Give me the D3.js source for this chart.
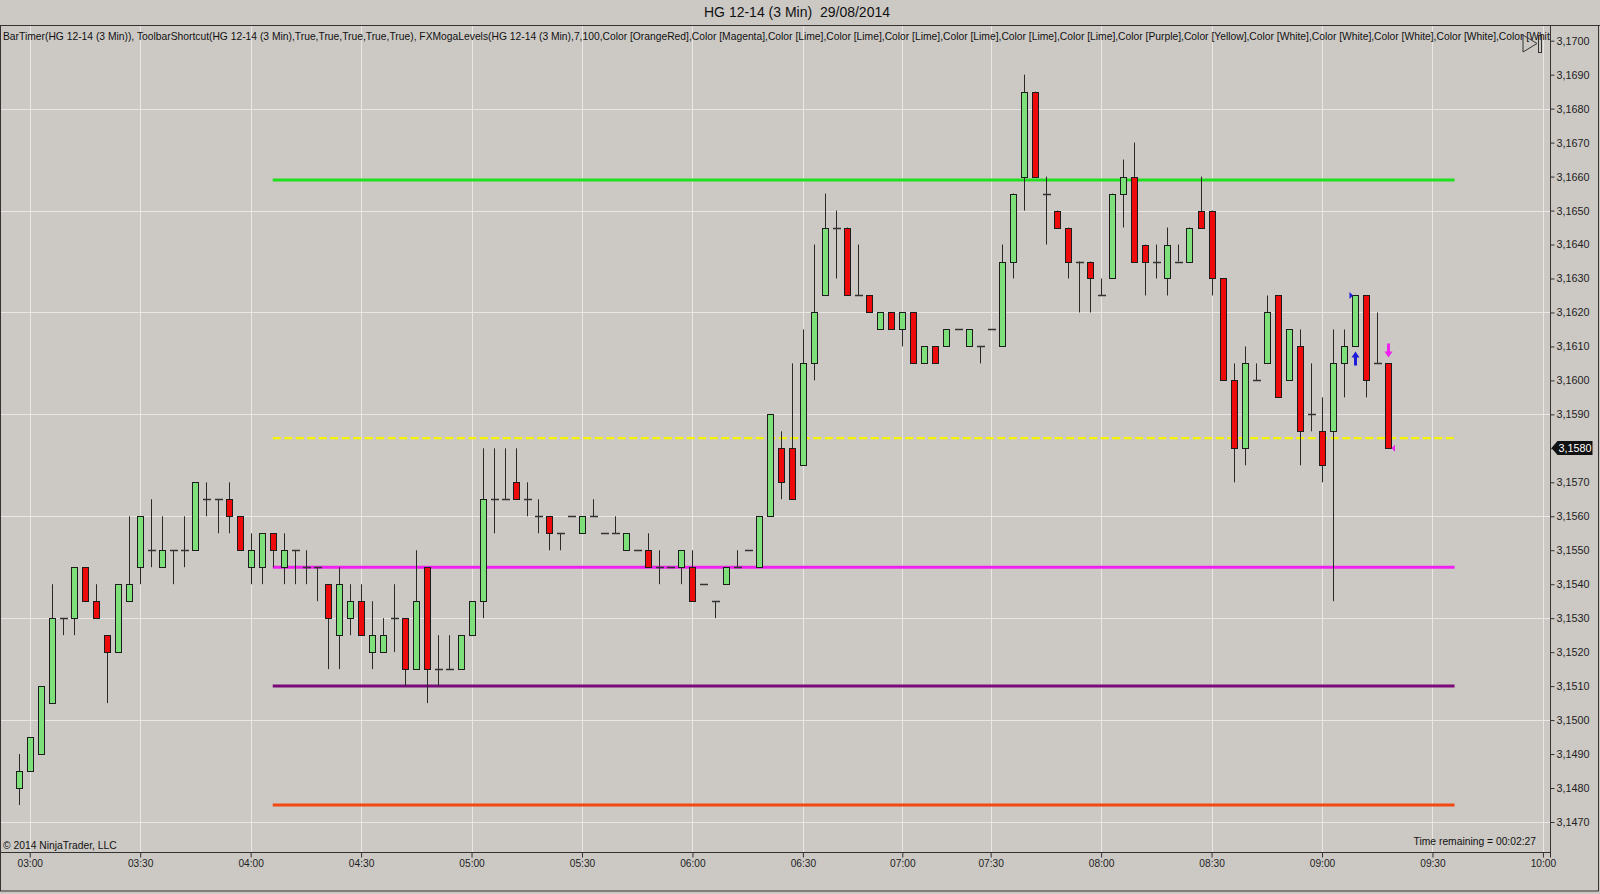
<!DOCTYPE html>
<html><head><meta charset="utf-8">
<script src="https://cdn.jsdelivr.net/npm/d3@7"></script>
<style>body{margin:0;background:#ccc9c5;}svg{display:block;font-family:"Liberation Sans",Arial,sans-serif;}</style>
</head><body>
<svg id="chart" width="1600" height="894"></svg>
<script>
// ---- data (3-min bars, HG 12-14, 29/08/2014) ----
const opens  = [3.1480,3.1485,3.1490,3.1505,3.1530,3.1530,3.1545,3.1535,3.1525,3.1520,3.1535,3.1545,3.1550,3.1545,3.1550,3.1550,3.1550,3.1565,3.1565,3.1565,3.1560,3.1545,3.1545,3.1555,3.1545,3.1550,3.1545,3.1545,3.1540,3.1525,3.1530,3.1535,3.1520,3.1520,3.1530,3.1530,3.1515,3.1545,3.1515,3.1515,3.1515,3.1525,3.1535,3.1565,3.1565,3.1570,3.1565,3.1560,3.1560,3.1555,3.1560,3.1555,3.1560,3.1555,3.1555,3.1550,3.1550,3.1550,3.1545,3.1545,3.1545,3.1545,3.1540,3.1535,3.1540,3.1545,3.1550,3.1545,3.1560,3.1580,3.1580,3.1575,3.1605,3.1625,3.1645,3.1645,3.1625,3.1625,3.1615,3.1620,3.1615,3.1620,3.1605,3.1610,3.1610,3.1615,3.1610,3.1610,3.1615,3.1610,3.1635,3.1660,3.1685,3.1655,3.1650,3.1645,3.1635,3.1635,3.1625,3.1630,3.1655,3.1660,3.1640,3.1635,3.1630,3.1635,3.1635,3.1650,3.1650,3.1630,3.1600,3.1580,3.1600,3.1605,3.1625,3.1600,3.1610,3.1590,3.1585,3.1585,3.1605,3.1610,3.1625,3.1605,3.1605];
const highs  = [3.1490,3.1495,3.1510,3.1540,3.1530,3.1545,3.1545,3.1540,3.1525,3.1540,3.1560,3.1560,3.1565,3.1560,3.1550,3.1560,3.1570,3.1570,3.1565,3.1570,3.1560,3.1555,3.1555,3.1555,3.1555,3.1550,3.1550,3.1545,3.1540,3.1545,3.1540,3.1540,3.1535,3.1530,3.1540,3.1530,3.1550,3.1545,3.1525,3.1525,3.1525,3.1535,3.1580,3.1580,3.1580,3.1580,3.1570,3.1565,3.1560,3.1555,3.1560,3.1560,3.1565,3.1555,3.1560,3.1555,3.1550,3.1555,3.1550,3.1545,3.1550,3.1550,3.1540,3.1535,3.1545,3.1550,3.1550,3.1560,3.1590,3.1585,3.1605,3.1615,3.1640,3.1655,3.1650,3.1645,3.1640,3.1625,3.1620,3.1620,3.1620,3.1620,3.1610,3.1610,3.1615,3.1615,3.1615,3.1610,3.1615,3.1640,3.1655,3.1690,3.1685,3.1660,3.1650,3.1645,3.1635,3.1635,3.1630,3.1655,3.1665,3.1670,3.1640,3.1640,3.1645,3.1640,3.1645,3.1660,3.1650,3.1630,3.1605,3.1610,3.1605,3.1625,3.1625,3.1615,3.1615,3.1605,3.1595,3.1615,3.1615,3.1625,3.1625,3.1620,3.1605];
const lows   = [3.1475,3.1485,3.1490,3.1505,3.1525,3.1525,3.1535,3.1530,3.1505,3.1520,3.1535,3.1540,3.1545,3.1545,3.1540,3.1545,3.1550,3.1560,3.1555,3.1555,3.1550,3.1540,3.1540,3.1545,3.1540,3.1540,3.1540,3.1535,3.1515,3.1515,3.1525,3.1525,3.1515,3.1520,3.1520,3.1510,3.1515,3.1505,3.1510,3.1515,3.1515,3.1525,3.1530,3.1555,3.1565,3.1565,3.1560,3.1555,3.1550,3.1550,3.1560,3.1555,3.1560,3.1555,3.1555,3.1550,3.1550,3.1545,3.1540,3.1545,3.1540,3.1535,3.1540,3.1530,3.1540,3.1545,3.1550,3.1545,3.1560,3.1565,3.1565,3.1575,3.1600,3.1625,3.1630,3.1625,3.1625,3.1620,3.1615,3.1615,3.1610,3.1605,3.1605,3.1605,3.1610,3.1615,3.1610,3.1605,3.1615,3.1610,3.1630,3.1650,3.1660,3.1640,3.1645,3.1630,3.1620,3.1620,3.1625,3.1630,3.1645,3.1635,3.1625,3.1630,3.1625,3.1635,3.1635,3.1645,3.1625,3.1600,3.1570,3.1575,3.1600,3.1605,3.1595,3.1600,3.1575,3.1585,3.1570,3.1535,3.1595,3.1610,3.1595,3.1605,3.1580];
const closes = [3.1485,3.1495,3.1510,3.1530,3.1530,3.1545,3.1535,3.1530,3.1520,3.1540,3.1540,3.1560,3.1550,3.1550,3.1550,3.1550,3.1570,3.1565,3.1565,3.1560,3.1550,3.1550,3.1555,3.1550,3.1550,3.1550,3.1545,3.1545,3.1530,3.1540,3.1535,3.1525,3.1525,3.1525,3.1530,3.1515,3.1535,3.1515,3.1515,3.1515,3.1525,3.1535,3.1565,3.1565,3.1565,3.1565,3.1565,3.1560,3.1555,3.1555,3.1560,3.1560,3.1560,3.1555,3.1555,3.1555,3.1550,3.1545,3.1545,3.1545,3.1550,3.1535,3.1540,3.1535,3.1545,3.1545,3.1550,3.1560,3.1590,3.1570,3.1565,3.1605,3.1620,3.1645,3.1645,3.1625,3.1625,3.1620,3.1620,3.1615,3.1620,3.1605,3.1610,3.1605,3.1615,3.1615,3.1615,3.1610,3.1615,3.1635,3.1655,3.1685,3.1660,3.1655,3.1645,3.1635,3.1635,3.1630,3.1625,3.1655,3.1660,3.1635,3.1635,3.1635,3.1640,3.1635,3.1645,3.1645,3.1630,3.1600,3.1580,3.1605,3.1600,3.1620,3.1595,3.1615,3.1585,3.1590,3.1575,3.1605,3.1610,3.1625,3.1600,3.1605,3.1580];

const timeLabels    = ["03:00","03:30","04:00","04:30","05:00","05:30","06:00","06:30","07:00","07:30","08:00","08:30","09:00","09:30","10:00"];
const timeLabelBars = [1,11,21,31,41,51,61,71,80,88,98,108,118,128,138];

const priceTicks = d3.range(3.1470, 3.17005, 0.001);
const gridPrices = [3.1470,3.1500,3.1530,3.1560,3.1590,3.1620,3.1650,3.1680];

const levelNames  = ["Lime","Yellow","Magenta","Purple","OrangeRed"];
const levelValues = [3.1659,3.1583,3.1545,3.1510,3.1475];
const levelFromBar = 23, levelToBar = 130;

const lastPrice = 3.1580;
const longSignalBar = 121, shortSignalBar = 124;

const titleText = "HG 12-14 (3 Min)\u00a0\u00a029/08/2014";
const indicatorText = "BarTimer(HG 12-14 (3 Min)), ToolbarShortcut(HG 12-14 (3 Min),True,True,True,True,True), FXMogaLevels(HG 12-14 (3 Min),7,100,Color [OrangeRed],Color [Magenta],Color [Lime],Color [Lime],Color [Lime],Color [Lime],Color [Lime],Color [Lime],Color [Purple],Color [Yellow],Color [White],Color [White],Color [White],Color [White],Color [White]";
const copyrightText = "© 2014 NinjaTrader, LLC";
const timeRemainingText = "Time remaining = 00:02:27";

// ---- layout ----
const W = 1600, H = 894;
const plotL = 1, plotR = 1550.5, plotT = 25.5, plotB = 852.5;
const levelStyle = {
  Lime:{c:"#1fe01f",w:3,d:null}, Yellow:{c:"#f5f500",w:2.4,d:"8,3.5"},
  Magenta:{c:"#f020f0",w:3,d:null}, Purple:{c:"#7a0a7a",w:3,d:null},
  OrangeRed:{c:"#f24812",w:3,d:null}
};

const svg = d3.select("#chart");
const x = d3.scaleLinear().domain([0,138]).range([18.7, 18.7+138*11.045]);
const y = d3.scaleLinear().domain([3.1470,3.1700]).range([822.0,40.7]);

svg.append("rect").attr("width",W).attr("height",H).attr("fill","#ccc9c5");

svg.append("defs").append("clipPath").attr("id","plotclip")
  .append("rect").attr("x",plotL).attr("y",plotT).attr("width",plotR-plotL).attr("height",plotB-plotT);

const plot = svg.append("g").attr("clip-path","url(#plotclip)");

// grid
plot.selectAll("line.vg").data(timeLabelBars).join("line")
  .attr("x1",d=>Math.round(x(d))+0.5).attr("x2",d=>Math.round(x(d))+0.5)
  .attr("y1",plotT).attr("y2",plotB).attr("stroke","#e9e7e5").attr("stroke-width",1);
plot.selectAll("line.hg").data(gridPrices).join("line")
  .attr("x1",plotL).attr("x2",plotR).attr("y1",d=>Math.round(y(d))+0.5).attr("y2",d=>Math.round(y(d))+0.5)
  .attr("stroke","#e9e7e5").attr("stroke-width",1);

// indicator text
plot.append("text").attr("x",3).attr("y",39.5).attr("font-size",10.3).attr("fill","#111")
  .text(indicatorText);

// level lines
levelNames.forEach((n,k)=>{
  const s = levelStyle[n];
  plot.append("line").attr("x1",x(levelFromBar)).attr("x2",x(levelToBar))
    .attr("y1",y(levelValues[k])).attr("y2",y(levelValues[k]))
    .attr("stroke",s.c).attr("stroke-width",s.w).attr("stroke-dasharray",s.d);
});

// candles
const bars = opens.map((o,i)=>({i,o,h:highs[i],l:lows[i],c:closes[i]}));
const cg = plot.append("g");
bars.forEach(b=>{
  const cx = Math.round(x(b.i));
  cg.append("line").attr("x1",cx+0.5).attr("x2",cx+0.5)
    .attr("y1",y(b.h)).attr("y2",y(b.l)).attr("stroke","#2a2a2a").attr("stroke-width",1);
  const left = cx-3+0.5;
  if (b.o===b.c) {
    const yy = Math.round(y(b.o))+0.5;
    cg.append("line").attr("x1",left-0.5).attr("x2",left+7.5).attr("y1",yy).attr("y2",yy)
      .attr("stroke","#333").attr("stroke-width",1.5);
  } else {
    const top = y(Math.max(b.o,b.c)), bot = y(Math.min(b.o,b.c));
    cg.append("rect").attr("x",left).attr("y",Math.round(top)+0.5).attr("width",6)
      .attr("height",Math.round(bot)-Math.round(top))
      .attr("fill",b.c>b.o?"#7ee07a":"#ee0a0a").attr("stroke","#1c1c1c").attr("stroke-width",1);
  }
});

// signal markers
(function(){
  const bl = bars[longSignalBar], cx = Math.round(x(longSignalBar))+0.5;
  const ty = y(bl.l)+5;
  plot.append("path").attr("d",`M${cx},${ty} L${cx+4},${ty+6} L${cx+1.5},${ty+6} L${cx+1.5},${ty+14} L${cx-1.5},${ty+14} L${cx-1.5},${ty+6} L${cx-4},${ty+6} Z`)
    .attr("fill","#1b1bd8");
  const ey = y(bl.h);
  plot.append("path").attr("d",`M${cx-6},${ey-3.5} L${cx-2.5},${ey} L${cx-6},${ey+3.5} Z`).attr("fill","#1b1bd8");
  const bs = bars[shortSignalBar], sx = Math.round(x(shortSignalBar))+0.5;
  const sy = y(bs.h)-6;
  plot.append("path").attr("d",`M${sx},${sy} L${sx+4},${sy-6} L${sx+1.5},${sy-6} L${sx+1.5},${sy-14} L${sx-1.5},${sy-14} L${sx-1.5},${sy-6} L${sx-4},${sy-6} Z`)
    .attr("fill","#f020f0");
  const cy = y(bs.c);
  plot.append("path").attr("d",`M${sx+6.5},${cy-3.5} L${sx+3},${cy} L${sx+6.5},${cy+3.5} Z`).attr("fill","#f020f0");
})();

// toolbar icon
plot.append("path").attr("d","M1523,35 L1537,43.5 L1523,52 Z").attr("fill","none").attr("stroke","#333").attr("stroke-width",1);
plot.append("rect").attr("x",1538.5).attr("y",35.5).attr("width",3).attr("height",17).attr("fill","none").attr("stroke","#333").attr("stroke-width",1);

// bottom texts
svg.append("text").attr("x",3).attr("y",849).attr("font-size",10.3).attr("fill","#111").text(copyrightText);
svg.append("text").attr("x",1536).attr("y",845).attr("font-size",10.3).attr("fill","#111").attr("text-anchor","end").text(timeRemainingText);

// axes
const yAxis = d3.axisRight(y).tickValues(priceTicks).tickSize(4).tickPadding(2)
  .tickFormat(d=>d3.format(".4f")(d).replace(".",","));
const ya = svg.append("g").attr("transform",`translate(${plotR},0)`).call(yAxis);
ya.select(".domain").attr("d",`M0,${plotT}V${plotB+5}`).attr("stroke","#333");
ya.selectAll("text").attr("font-size",10.8).attr("fill","#222").attr("font-family","Liberation Sans, Arial, sans-serif");
ya.selectAll(".tick line").attr("stroke","#333");

const xAxis = d3.axisBottom(x).tickValues(timeLabelBars).tickSize(5).tickPadding(2)
  .tickFormat((d,k)=>timeLabels[k]);
const xa = svg.append("g").attr("transform",`translate(0,${plotB})`).call(xAxis);
xa.select(".domain").attr("d",`M${plotL},0H${plotR}`).attr("stroke","#333");
xa.selectAll("text").attr("font-size",10.2).attr("fill","#222").attr("font-family","Liberation Sans, Arial, sans-serif");
xa.selectAll(".tick line").attr("stroke","#333");

// last price badge
(function(){
  const py = Math.round(y(lastPrice));
  svg.append("path").attr("d",`M${plotR+1},${py} L${plotR+7},${py-7} L${plotR+42},${py-7} L${plotR+42},${py+7} L${plotR+7},${py+7} Z`).attr("fill","#111");
  svg.append("text").attr("x",plotR+8).attr("y",py+4).attr("font-size",10.8).attr("fill","#fff")
    .text(d3.format(".4f")(lastPrice).replace(".",","));
})();

// frame
svg.append("line").attr("x1",0).attr("x2",W).attr("y1",plotT).attr("y2",plotT).attr("stroke","#333");
svg.append("rect").attr("x",0.5).attr("y",plotT).attr("width",W-2).attr("height",891-plotT)
  .attr("fill","none").attr("stroke","#333");

// title
svg.append("text").attr("x",797).attr("y",17).attr("text-anchor","middle").attr("font-size",14).attr("fill","#111").text(titleText);
</script>
</body></html>
